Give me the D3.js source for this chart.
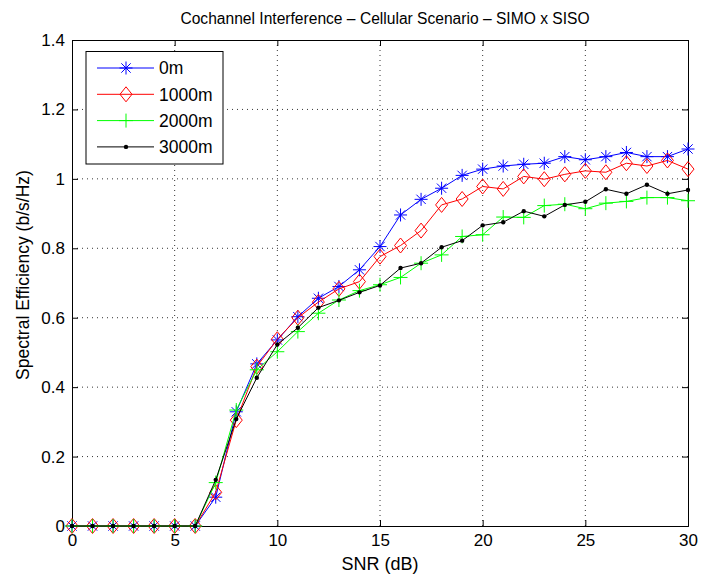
<!DOCTYPE html>
<html><head><meta charset="utf-8">
<script src="https://cdn.jsdelivr.net/npm/d3@7"></script>
<style>body{margin:0;background:#fff}svg{display:block}text{font-family:"Liberation Sans",Arial,sans-serif;fill:#000}</style>
</head><body><div id="c"></div>
<script>
const snr = d3.range(0, 31);
const s0m    = [0,0,0,0,0,0,0,0.083,0.329,0.467,0.536,0.603,0.656,0.690,0.738,0.805,0.896,0.941,0.973,1.010,1.028,1.037,1.042,1.045,1.064,1.055,1.064,1.076,1.064,1.064,1.086];
const s1000m = [0,0,0,0,0,0,0,0.097,0.305,0.459,0.538,0.600,0.645,0.683,0.704,0.776,0.808,0.851,0.925,0.942,0.978,0.971,1.007,0.999,1.013,1.023,1.019,1.045,1.037,1.053,1.028];
const s2000m = [0,0,0,0,0,0,0,0.125,0.334,0.450,0.502,0.560,0.613,0.651,0.678,0.695,0.716,0.757,0.781,0.834,0.839,0.890,0.889,0.923,0.927,0.914,0.930,0.935,0.946,0.946,0.937];
const s3000m = [0,0,0,0,0,0,0,0.133,0.308,0.427,0.523,0.571,0.629,0.650,0.673,0.693,0.743,0.757,0.803,0.822,0.866,0.875,0.907,0.892,0.925,0.934,0.970,0.957,0.983,0.957,0.968];
const seriesNames = ["0m","1000m","2000m","3000m"];
const seriesColors = ["#0000ff","#ff0000","#00ff00","#000000"];
const seriesMarkers = ["star","diamond","plus","dot"];
const xTicks = [0,5,10,15,20,25,30];
const yTicks = [0,0.2,0.4,0.6,0.8,1,1.2,1.4];
const title = "Cochannel Interference \u2013 Cellular Scenario \u2013 SIMO x SISO";
const xLabel = "SNR (dB)";
const yLabel = "Spectral Efficiency (b/s/Hz)";

const W=702,H=578, L=72,R=688,T=40,B=526;
const svg=d3.select("#c").append("svg").attr("width",W).attr("height",H);
const x=d3.scaleLinear().domain([0,30]).range([L,R]);
const y=d3.scaleLinear().domain([0,1.4]).range([B,T]);

// grid
const g=svg.append("g");
xTicks.slice(1,-1).forEach(t=>g.append("line").attr("x1",x(t)).attr("x2",x(t)).attr("y1",T).attr("y2",B).attr("stroke","#000").attr("stroke-width",0.8).attr("stroke-dasharray","1,4"));
yTicks.slice(1,-1).forEach(t=>g.append("line").attr("y1",y(t)).attr("y2",y(t)).attr("x1",L).attr("x2",R).attr("stroke","#000").attr("stroke-width",0.8).attr("stroke-dasharray","1,4"));

// axes
const ax=svg.append("g").attr("transform",`translate(0,${B})`).call(d3.axisBottom(x).tickValues(xTicks).tickSize(-6).tickPadding(10).tickFormat(d3.format("d")));
const ax2=svg.append("g").attr("transform",`translate(0,${T})`).call(d3.axisTop(x).tickValues(xTicks).tickSize(-6).tickFormat(""));
const ay=svg.append("g").attr("transform",`translate(${L},0)`).call(d3.axisLeft(y).tickValues(yTicks).tickSize(-6).tickPadding(7).tickFormat(d=>d===0?"0":d===1?"1":d3.format(".1f")(d)));
const ay2=svg.append("g").attr("transform",`translate(${R},0)`).call(d3.axisRight(y).tickValues(yTicks).tickSize(-6).tickFormat(""));
[ax,ax2,ay,ay2].forEach(a=>{a.select(".domain").attr("stroke","#000").attr("stroke-width",1);a.selectAll("line").attr("stroke","#000");a.selectAll("text").style("font-size","17px").attr("fill","#000");});
ax.selectAll("text").attr("dy","0.6em");

// markers
function drawMarker(sel,type,color){
  if(type==="star"){
    const r=6.5;
    let p="";
    [[r,0],[0,r],[r*0.72,r*0.72],[r*0.72,-r*0.72]].forEach(([a,b])=>{p+=`M${-a},${-b}L${a},${b}`;});
    sel.append("path").attr("d",p).attr("stroke",color).attr("fill","none").attr("stroke-width",1);
  } else if(type==="diamond"){
    sel.append("path").attr("d","M0,-7.5L6,0L0,7.5L-6,0Z").attr("stroke",color).attr("fill","none").attr("stroke-width",1);
  } else if(type==="plus"){
    sel.append("path").attr("d","M-7,0L7,0M0,-7L0,7").attr("stroke",color).attr("fill","none").attr("stroke-width",1);
  } else {
    sel.append("circle").attr("r",2.2).attr("fill",color);
  }
}

const allSeries=[s0m,s1000m,s2000m,s3000m];
const line=d3.line().x((d,i)=>x(snr[i])).y(d=>y(d));
allSeries.forEach((s,k)=>{
  svg.append("path").datum(s).attr("d",line).attr("fill","none").attr("stroke",seriesColors[k]).attr("stroke-width",1);
  s.forEach((v,i)=>{const m=svg.append("g").attr("transform",`translate(${x(snr[i])},${y(v)})`);drawMarker(m,seriesMarkers[k],seriesColors[k]);});
});

// legend
const lg=svg.append("g");
lg.append("rect").attr("x",86).attr("y",51.5).attr("width",137).attr("height",112.5).attr("fill","#fff").attr("stroke","#000").attr("stroke-width",1);
seriesNames.forEach((n,k)=>{
  const yy=68+k*26.3;
  lg.append("line").attr("x1",97).attr("x2",154).attr("y1",yy).attr("y2",yy).attr("stroke",seriesColors[k]).attr("stroke-width",1);
  drawMarker(lg.append("g").attr("transform",`translate(126,${yy})`),seriesMarkers[k],seriesColors[k]);
  lg.append("text").attr("x",159).attr("y",yy).attr("dy","0.36em").style("font-size","17.5px").text(n);
});

svg.append("text").attr("x",385).attr("y",24).attr("text-anchor","middle").style("font-size","15.6px").text(title);
svg.append("text").attr("x",380).attr("y",570).attr("text-anchor","middle").style("font-size","18px").text(xLabel);
svg.append("text").attr("transform",`translate(29,${275}) rotate(-90)`).attr("text-anchor","middle").style("font-size","17.5px").text(yLabel);
</script></body></html>
